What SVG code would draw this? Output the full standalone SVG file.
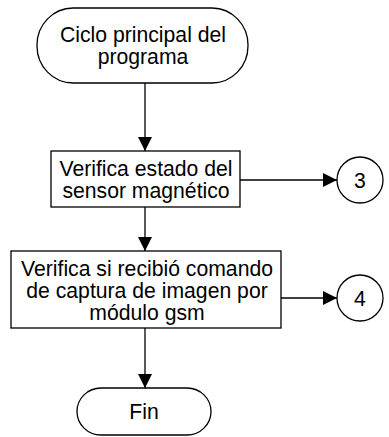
<svg xmlns="http://www.w3.org/2000/svg" width="389" height="437" viewBox="0 0 389 437">
<style>
.s{fill:#fff;stroke:#000;stroke-width:1.3}
.t{font-family:"Liberation Sans",Arial,sans-serif;font-size:21.2px;fill:#000;text-anchor:middle}
.c{stroke:#000;stroke-width:1.3;fill:none;marker-end:url(#ah)}
</style>
<defs>
<marker id="ah" markerUnits="userSpaceOnUse" markerWidth="14" markerHeight="14" viewBox="0 0 14 14" refX="14" refY="7" orient="auto">
<path d="M0,0 L14,7 L0,14 Z" fill="#000"/>
</marker>
</defs>
<g id="connectors">
<line class="c" x1="145" y1="83" x2="145" y2="151"/>
<line class="c" x1="145" y1="207" x2="145" y2="251"/>
<line class="c" x1="240" y1="180" x2="337" y2="180"/>
<line class="c" x1="281" y1="298" x2="337" y2="298"/>
<line class="c" x1="145" y1="328" x2="145" y2="388"/>
</g>
<g id="start">
<rect class="s" x="37" y="8" width="211" height="75" rx="36" ry="37"/>
<text class="t" x="143" y="42">Ciclo principal del</text>
<text class="t" x="143" y="64">programa</text>
</g>
<g id="box1">
<rect class="s" x="51" y="151" width="189" height="56"/>
<text class="t" x="146" y="175.5">Verifica estado del</text>
<text class="t" x="146" y="197.5">sensor magnético</text>
</g>
<g id="c3">
<circle class="s" cx="360" cy="180" r="23"/>
<text class="t" x="360" y="187.5">3</text>
</g>
<g id="box2">
<rect class="s" x="11" y="251" width="270" height="77"/>
<text class="t" x="147" y="275.5">Verifica si recibió comando</text>
<text class="t" x="147" y="297.5">de captura de imagen por</text>
<text class="t" x="147" y="319.5">módulo gsm</text>
</g>
<g id="c4">
<circle class="s" cx="360" cy="298" r="23"/>
<text class="t" x="360" y="305.5">4</text>
</g>
<g id="fin">
<rect class="s" x="77" y="388" width="134" height="47" rx="24" ry="23.5"/>
<text class="t" x="144" y="419">Fin</text>
</g>
</svg>
